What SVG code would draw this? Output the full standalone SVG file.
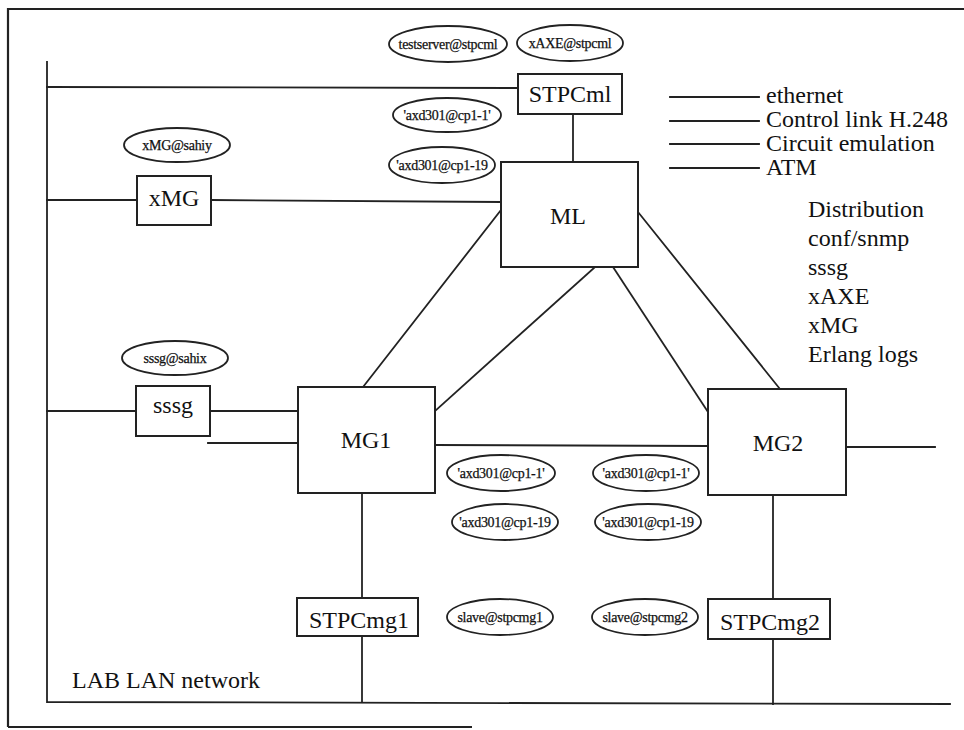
<svg xmlns="http://www.w3.org/2000/svg" width="964" height="730" viewBox="0 0 964 730">
  <style>
    .frame { stroke: #222; stroke-width: 2.2; fill: none; }
    .wire { stroke: #222; stroke-width: 1.8; fill: none; stroke-linecap: square; }
    .box { fill: #fff; stroke: #222; stroke-width: 2; }
    .proc { fill: #fff; stroke: #222; stroke-width: 1.8; }
    .big { font-family: "Liberation Serif", "Times New Roman", serif; font-size: 24px; fill: #111; }
    .small { font-family: "Liberation Serif", "Times New Roman", serif; font-size: 14px; fill: #111; stroke: #111; stroke-width: 0.25; text-anchor: middle; letter-spacing: -0.3px; }
    .mid { text-anchor: middle; }
  </style>
  <rect x="0" y="0" width="964" height="730" fill="#fff"/>

  <!-- page frame -->
  <path class="frame" d="M8,727 L8,9 L964,9 M8,727 L472,727"/>

  <!-- network wiring -->
  <g id="connectors">
    <!-- LAB LAN backbone -->
    <path class="wire" d="M47,62 L47,702 L950,704"/>
    <path class="wire" d="M47,87 L518,88"/>
    <path class="wire" d="M47,200 L137,200"/>
    <path class="wire" d="M211,200 L501,202"/>
    <path class="wire" d="M47,411 L136,411"/>
    <path class="wire" d="M210,411 L298,411"/>
    <path class="wire" d="M208,443 L298,443"/>
    <!-- STPCml to ML -->
    <path class="wire" d="M573,114 L573,162"/>
    <!-- ML to media gateways -->
    <path class="wire" d="M501,210 L363,387"/>
    <path class="wire" d="M595,267 L435,411"/>
    <path class="wire" d="M613,267 L708,412"/>
    <path class="wire" d="M638,212 L780,389"/>
    <!-- MG1 / MG2 -->
    <path class="wire" d="M435,445 L708,446"/>
    <path class="wire" d="M846,447 L935,447"/>
    <path class="wire" d="M362,493 L362,598"/>
    <path class="wire" d="M362,636 L362,702"/>
    <path class="wire" d="M773,495 L773,599"/>
    <path class="wire" d="M773,639 L773,704"/>
  </g>

  <!-- legend -->
  <g id="legend">
    <path class="wire" d="M670,97 L759,97 M670,121 L759,121 M670,144 L759,144 M670,168 L759,168"/>
    <text class="big" x="766" y="103">ethernet</text>
    <text class="big" x="766" y="127">Control link H.248</text>
    <text class="big" x="766" y="151">Circuit emulation</text>
    <text class="big" x="766" y="175">ATM</text>
  </g>

  <g id="services">
    <text class="big" x="808" y="217">Distribution</text>
    <text class="big" x="808" y="246">conf/snmp</text>
    <text class="big" x="808" y="275">sssg</text>
    <text class="big" x="808" y="304">xAXE</text>
    <text class="big" x="808" y="333">xMG</text>
    <text class="big" x="808" y="362">Erlang logs</text>
  </g>

  <!-- nodes -->
  <g id="STPCml">
    <rect class="box" x="518" y="74" width="104" height="40"/>
    <text class="big mid" x="570" y="102">STPCml</text>
  </g>
  <g id="ML">
    <rect class="box" x="501" y="162" width="137" height="105"/>
    <text class="big mid" x="568" y="224">ML</text>
  </g>
  <g id="xMG">
    <rect class="box" x="137" y="176" width="74" height="49"/>
    <text class="big mid" x="174" y="206">xMG</text>
  </g>
  <g id="sssg">
    <rect class="box" x="136" y="386" width="74" height="50"/>
    <text class="big mid" x="173" y="413">sssg</text>
  </g>
  <g id="MG1">
    <rect class="box" x="298" y="387" width="137" height="106"/>
    <text class="big mid" x="366" y="448">MG1</text>
  </g>
  <g id="MG2">
    <rect class="box" x="708" y="389" width="138" height="106"/>
    <text class="big mid" x="778" y="451">MG2</text>
  </g>
  <g id="STPCmg1">
    <rect class="box" x="297" y="598" width="121" height="38"/>
    <text class="big mid" x="359" y="628">STPCmg1</text>
  </g>
  <g id="STPCmg2">
    <rect class="box" x="708" y="599" width="122" height="40"/>
    <text class="big mid" x="770" y="630">STPCmg2</text>
  </g>

  <!-- Erlang nodes -->
  <g id="testserver">
    <ellipse class="proc" cx="448" cy="44" rx="59" ry="18"/>
    <text class="small" x="448" y="48.5">testserver@stpcml</text>
  </g>
  <g id="xAXE">
    <ellipse class="proc" cx="570" cy="43" rx="53" ry="18"/>
    <text class="small" x="570" y="47.5">xAXE@stpcml</text>
  </g>
  <g id="ml-cp1-1">
    <ellipse class="proc" cx="447" cy="115" rx="54" ry="17"/>
    <text class="small" x="447" y="119.5">'axd301@cp1-1'</text>
  </g>
  <g id="ml-cp1-19">
    <ellipse class="proc" cx="442" cy="165" rx="53" ry="18"/>
    <text class="small" x="442" y="169.5">'axd301@cp1-19</text>
  </g>
  <g id="xmg-node">
    <ellipse class="proc" cx="177" cy="145" rx="53" ry="17"/>
    <text class="small" x="177" y="149.5">xMG@sahiy</text>
  </g>
  <g id="sssg-node">
    <ellipse class="proc" cx="175" cy="358" rx="53" ry="17"/>
    <text class="small" x="175" y="362.5">sssg@sahix</text>
  </g>
  <g id="mg1-cp1-1">
    <ellipse class="proc" cx="501" cy="473" rx="54" ry="18"/>
    <text class="small" x="501" y="477.5">'axd301@cp1-1'</text>
  </g>
  <g id="mg1-cp1-19">
    <ellipse class="proc" cx="505" cy="522" rx="53" ry="18"/>
    <text class="small" x="505" y="526.5">'axd301@cp1-19</text>
  </g>
  <g id="mg2-cp1-1">
    <ellipse class="proc" cx="646" cy="473" rx="53" ry="18"/>
    <text class="small" x="646" y="477.5">'axd301@cp1-1'</text>
  </g>
  <g id="mg2-cp1-19">
    <ellipse class="proc" cx="648" cy="522" rx="53" ry="18"/>
    <text class="small" x="648" y="526.5">'axd301@cp1-19</text>
  </g>
  <g id="slave1">
    <ellipse class="proc" cx="500" cy="617" rx="53" ry="18"/>
    <text class="small" x="500" y="621.5">slave@stpcmg1</text>
  </g>
  <g id="slave2">
    <ellipse class="proc" cx="645" cy="617" rx="53" ry="18"/>
    <text class="small" x="645" y="621.5">slave@stpcmg2</text>
  </g>

  <text class="big" x="72" y="688">LAB LAN network</text>
</svg>
